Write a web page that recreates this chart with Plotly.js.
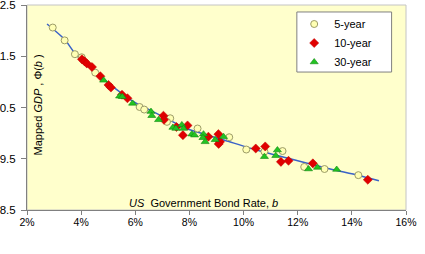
<!DOCTYPE html>
<html>
<head>
<meta charset="utf-8">
<script src="https://cdn.plot.ly/plotly-3.0.1.min.js"></script>
<style>
  html, body { margin: 0; padding: 0; background: #ffffff; }
  #chart { width: 425px; height: 254px; }
</style>
</head>
<body>
<div id="chart"></div>
<script>
// US government bond rate (b) against mapped GDP, Phi(b), by bond maturity.
const rate5 = [0.0295, 0.0339, 0.0377, 0.0402, 0.0452, 0.0616, 0.0633, 0.0729, 0.0717, 0.0830,
               0.0947, 0.1010, 0.1077, 0.1144, 0.1224, 0.1299, 0.1424];
const phi5  = [12.06, 11.81, 11.54, 11.48, 11.18, 10.51, 10.46, 10.29, 10.22, 10.09,
               9.92, 9.68, 9.64, 9.65, 9.34, 9.30, 9.18];

const rate10 = [0.0403, 0.0413, 0.0421, 0.0440, 0.0471, 0.0501, 0.0510, 0.0551, 0.0571, 0.0704,
                0.0706, 0.0752, 0.0793, 0.0776, 0.0870, 0.0907, 0.0913, 0.0908, 0.1045, 0.1080,
                0.1138, 0.1166, 0.1256, 0.1459];
const phi10  = [11.44, 11.40, 11.36, 11.29, 11.11, 10.94, 10.89, 10.75, 10.68, 10.34,
                10.26, 10.12, 10.15, 9.96, 9.93, 9.98, 9.83, 9.79, 9.70, 9.74,
                9.44, 9.46, 9.41, 9.09];

const rate30 = [0.0483, 0.0542, 0.0552, 0.0590, 0.0658, 0.0661, 0.0686, 0.0739, 0.0750, 0.0772,
                0.0778, 0.0809, 0.0819, 0.0852, 0.0850, 0.0858, 0.0926, 0.0895, 0.1077, 0.1125,
                0.1119, 0.1240, 0.1273, 0.1344];
const phi30  = [11.03, 10.72, 10.71, 10.58, 10.42, 10.34, 10.26, 10.11, 10.09, 10.16,
                10.09, 9.98, 9.96, 9.98, 9.91, 9.83, 9.93, 9.87, 9.54, 9.67,
                9.56, 9.30, 9.33, 9.29];

// fitted curve through all maturities
const fitRate = [0.0274, 0.0339, 0.0378, 0.0471, 0.0589, 0.0711, 0.0784, 0.0943, 0.1061, 0.1172,
                 0.1320, 0.1423, 0.1500];
const fitPhi  = [12.13, 11.83, 11.55, 11.10, 10.63, 10.30, 10.10, 9.84, 9.65, 9.50,
                 9.30, 9.18, 9.07];

const seriesNames = ['5-year', '10-year', '30-year'];
const xTitle = '<i>US</i>  Government Bond Rate, <i>b</i>';
const yTitle = 'Mapped <i>GDP</i> , \u03A6(<i>b</i> )';

const FONT = 'Liberation Sans, Arial, sans-serif';

const traces = [
  {
    x: fitRate, y: fitPhi, type: 'scatter', mode: 'lines',
    line: { color: '#3a62c8', width: 1.5, shape: 'spline', smoothing: 0.6 },
    showlegend: false, hoverinfo: 'skip'
  },
  {
    x: rate5, y: phi5, type: 'scatter', mode: 'markers', name: seriesNames[0],
    marker: { symbol: 'circle', size: 7, color: '#ffffb4', line: { color: '#9c9c68', width: 1 } }
  },
  {
    x: rate10, y: phi10, type: 'scatter', mode: 'markers', name: seriesNames[1],
    marker: { symbol: 'diamond', size: 7, color: '#e00000', line: { color: '#c00000', width: 0.5 } }
  },
  {
    x: rate30, y: phi30, type: 'scatter', mode: 'markers', name: seriesNames[2],
    marker: { symbol: 'triangle-up', size: 7, color: '#22c422', line: { color: '#118811', width: 0.6 } }
  }
];

const layout = {
  width: 425, height: 254,
  margin: { l: 27, r: 19, t: 5, b: 44, autoexpand: false },
  paper_bgcolor: '#ffffff',
  plot_bgcolor: '#ffffcc',
  font: { family: FONT, size: 10.5, color: '#000000' },
  showlegend: true,
  legend: {
    x: 0.705, y: 0.978, xanchor: 'left', yanchor: 'top',
    bgcolor: 'rgba(0,0,0,0)', borderwidth: 0,
    font: { family: FONT, size: 11, color: '#000000' },
    itemwidth: 30, tracegroupgap: 0
  },
  xaxis: {
    range: [0.02, 0.16], tick0: 0.02, dtick: 0.02, tickformat: '.0%',
    showgrid: false, zeroline: false,
    showline: true, linecolor: '#808080', linewidth: 1,
    ticks: 'outside', ticklen: 4, tickcolor: '#808080', tickwidth: 1,
    ticklabelstandoff: -2,
    tickfont: { family: FONT, size: 10.5, color: '#000000' }
  },
  yaxis: {
    range: [8.5, 12.5], tick0: 8.5, dtick: 1, tickformat: '.1f',
    showgrid: false, zeroline: false,
    showline: true, linecolor: '#808080', linewidth: 1,
    ticks: 'outside', ticklen: 5, tickcolor: '#808080', tickwidth: 1,
    ticklabeloverflow: 'allow', ticklabelstandoff: 3,
    tickfont: { family: FONT, size: 11.5, color: '#000000' }
  },
  shapes: [
    { type: 'rect', xref: 'paper', yref: 'paper', x0: 0, x1: 1, y0: 0, y1: 1,
      line: { color: '#c4c4c4', width: 1 }, layer: 'below' },
    { type: 'rect', xref: 'paper', yref: 'paper', x0: 0.712, x1: 0.962, y0: 0.673, y1: 0.966,
      fillcolor: '#ffffff', line: { color: '#808080', width: 1 }, layer: 'above' }
  ],
  annotations: [
    { text: xTitle, xref: 'paper', yref: 'paper', x: 0.465, y: 0.034,
      xanchor: 'center', yanchor: 'middle', showarrow: false,
      font: { family: FONT, size: 11, color: '#000000' } },
    { text: yTitle, xref: 'paper', yref: 'paper', x: 0.03, y: 0.512,
      xanchor: 'center', yanchor: 'middle', textangle: -90, showarrow: false,
      font: { family: FONT, size: 11, color: '#000000' } }
  ]
};

Plotly.newPlot('chart', traces, layout, { displayModeBar: false, staticPlot: true });
</script>
</body>
</html>
